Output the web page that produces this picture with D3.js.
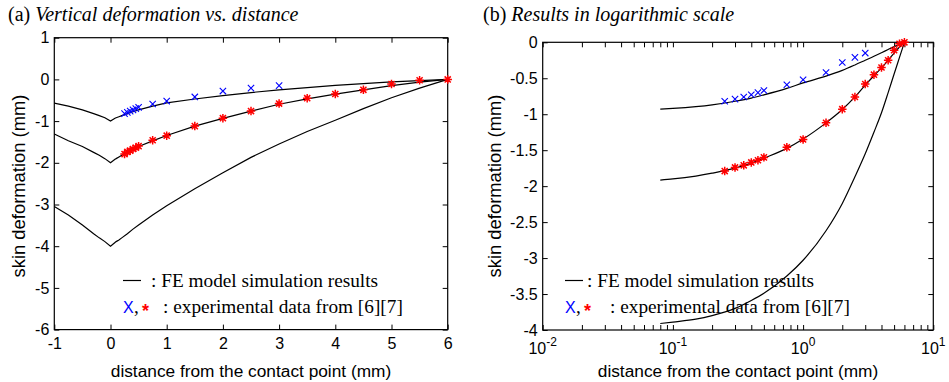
<!DOCTYPE html>
<html>
<head>
<meta charset="utf-8">
<script src="https://cdn.jsdelivr.net/npm/d3@7"></script>
<style>
  body { margin: 0; background: #fff; }
</style>
</head>
<body>
<div id="chart"></div>
<script>
// ---------- data ----------
// FE simulation, three loading levels (x = distance mm, y = deformation mm)
var feX    = [-1, -0.75, -0.5, -0.3, -0.2, -0.1, 0, 0.08, 0.1, 0.15, 0.2, 0.3, 0.4, 0.5, 0.75, 1, 1.5, 2, 2.5, 3, 3.5, 4, 4.5, 5, 5.5, 6];
var feLow  = [-0.57, -0.64, -0.73, -0.82, -0.87, -0.92, -1, -0.93, -0.92, -0.895, -0.87, -0.82, -0.775, -0.73, -0.64, -0.565, -0.47, -0.39, -0.315, -0.25, -0.195, -0.145, -0.1, -0.06, -0.03, 0];
var feMid  = [-1.31, -1.47, -1.61, -1.75, -1.82, -1.90, -2, -1.915, -1.90, -1.86, -1.82, -1.75, -1.68, -1.61, -1.475, -1.345, -1.12, -0.935, -0.76, -0.595, -0.465, -0.355, -0.25, -0.15, -0.065, 0];
var feHigh = [-3.05, -3.25, -3.49, -3.70, -3.80, -3.89, -4, -3.91, -3.89, -3.85, -3.80, -3.70, -3.59, -3.49, -3.25, -3.03, -2.62, -2.24, -1.87, -1.55, -1.25, -0.98, -0.70, -0.44, -0.21, 0];

// experimental data [6][7]
var blueX = [0.25, 0.3, 0.35, 0.4, 0.45, 0.5, 0.75, 1, 1.5, 2, 2.5, 3];
var blueY = [-0.82, -0.79, -0.76, -0.73, -0.70, -0.67, -0.59, -0.52, -0.42, -0.28, -0.21, -0.15];
var redX  = [0.25, 0.3, 0.35, 0.4, 0.45, 0.5, 0.75, 1, 1.5, 2, 2.5, 3, 3.5, 4, 4.5, 5, 5.5, 6];
var redY  = [-1.79, -1.74, -1.71, -1.67, -1.64, -1.60, -1.46, -1.35, -1.12, -0.93, -0.76, -0.58, -0.45, -0.35, -0.25, -0.11, -0.02, 0];

// ticks
var linTicksX = [-1, 0, 1, 2, 3, 4, 5, 6];
var linTicksY = [1, 0, -1, -2, -3, -4, -5, -6];
var logMajorX = [0.01, 0.1, 1, 10];
var logTicksY = [0, -0.5, -1, -1.5, -2, -2.5, -3, -3.5, -4];

var W = 949, H = 382;
var sans = "Arial, 'Liberation Sans', Helvetica, sans-serif";
var serif = "'Times New Roman', 'Liberation Serif', Times, serif";

var svg = d3.select("#chart").append("svg")
    .attr("width", W)
    .attr("height", H)
    .style("display", "block");
svg.append("rect").attr("width", W).attr("height", H).attr("fill", "#fff");

// 8 armed asterisk like matlab '*'
var asterisk = {
    draw: function(ctx, size) {
        var r = Math.sqrt(size) / 2, d = r * 0.72;
        ctx.moveTo(-r, 0); ctx.lineTo(r, 0);
        ctx.moveTo(0, -r); ctx.lineTo(0, r);
        ctx.moveTo(-d, -d); ctx.lineTo(d, d);
        ctx.moveTo(-d, d); ctx.lineTo(d, -d);
    }
};

function zip(xs, ys) {
    return xs.map(function(v, i) { return {x: v, y: ys[i]}; });
}

function drawPanel(p) {
    var g = svg.append("g");
    var x = p.x, y = p.y;
    var x0 = x.range()[0], x1 = x.range()[1];
    var y0 = y.range()[0], y1 = y.range()[1];

    // axes, ticks inward on all four sides
    var bottom = g.append("g").attr("transform", "translate(0," + y0 + ")")
        .call(d3.axisBottom(x).tickValues(p.xTicks).tickSize(-5).tickSizeOuter(0).tickPadding(8)
            .tickFormat(p.xFormat));
    var top = g.append("g").attr("transform", "translate(0," + y1 + ")")
        .call(d3.axisTop(x).tickValues(p.xTicks).tickSize(-5).tickSizeOuter(0).tickFormat(""));
    var left = g.append("g").attr("transform", "translate(" + x0 + ",0)")
        .call(d3.axisLeft(y).tickValues(p.yTicks).tickSize(-5).tickSizeOuter(0).tickPadding(5)
            .tickFormat(function(d) { return d; }));
    var right = g.append("g").attr("transform", "translate(" + x1 + ",0)")
        .call(d3.axisRight(y).tickValues(p.yTicks).tickSize(-5).tickSizeOuter(0).tickFormat(""));

    [bottom, top, left, right].forEach(function(a) {
        a.select(".domain").remove();
        a.selectAll("line").attr("stroke", "#000");
        a.selectAll("text").attr("fill", "#000").style("font-family", sans).style("font-size", "16px");
    });

    // frame
    g.append("rect")
        .attr("x", x0).attr("y", y1)
        .attr("width", x1 - x0).attr("height", y0 - y1)
        .attr("fill", "none").attr("stroke", "#000").attr("stroke-width", 1.2);

    // FE curves
    var line = d3.line()
        .x(function(d) { return x(d.x); })
        .y(function(d) { return y(d.y); })
        .curve(p.curve);
    [feLow, feMid, feHigh].forEach(function(ys) {
        var pts = zip(feX, ys).filter(function(d) { return d.x >= p.minX; });
        g.append("path")
            .datum(pts)
            .attr("d", line)
            .attr("fill", "none")
            .attr("stroke", "#000")
            .attr("stroke-width", 1.2);
    });

    // experimental markers
    g.selectAll(".bx")
        .data(zip(blueX, blueY))
        .enter().append("path")
        .attr("class", "bx")
        .attr("d", d3.symbol(d3.symbolTimes, 28))
        .attr("transform", function(d) { return "translate(" + x(d.x) + "," + y(d.y) + ")"; })
        .attr("fill", "none").attr("stroke", "#0000ff").attr("stroke-width", 1.1);

    g.selectAll(".rs")
        .data(zip(redX, redY))
        .enter().append("path")
        .attr("class", "rs")
        .attr("d", d3.symbol(asterisk, 72))
        .attr("transform", function(d) { return "translate(" + x(d.x) + "," + y(d.y) + ")"; })
        .attr("fill", "none").attr("stroke", "#ff0000").attr("stroke-width", 1.5);

    // title
    var t = g.append("text")
        .attr("x", p.titleX).attr("y", 21)
        .style("font-family", serif).style("font-size", "20px").attr("fill", "#000");
    t.append("tspan").text(p.tag + " ");
    t.append("tspan").style("font-style", "italic").text(p.title);

    // axis labels
    g.append("text")
        .attr("x", (x0 + x1) / 2).attr("y", 377)
        .attr("text-anchor", "middle")
        .style("font-family", sans).style("font-size", "17.3px")
        .text("distance from the contact point (mm)");
    g.append("text")
        .attr("transform", "translate(" + p.yLabelX + ",186) rotate(-90)")
        .attr("text-anchor", "middle")
        .style("font-family", sans).style("font-size", "18.4px")
        .text("skin deformation (mm)");

    // legend
    var lg = g.append("g").attr("transform", "translate(" + p.legX + ",0)");
    lg.append("line")
        .attr("x1", 0).attr("x2", 18).attr("y1", 280.5).attr("y2", 280.5)
        .attr("stroke", "#000").attr("stroke-width", 1.2);
    lg.append("text")
        .attr("x", p.legText1).attr("y", 287)
        .style("font-family", serif).style("font-size", "19.3px")
        .text(": FE model simulation results");
    lg.append("text")
        .attr("x", 0).attr("y", 313)
        .style("font-family", sans).style("font-size", "16px")
        .attr("fill", "#0000ff")
        .text("X");
    lg.append("text")
        .attr("x", 11).attr("y", 313)
        .style("font-family", serif).style("font-size", "19.3px")
        .text(",");
    lg.append("text")
        .attr("x", p.starX).attr("y", 317)
        .style("font-family", sans).style("font-size", "18px").style("font-weight", "bold")
        .attr("fill", "#ff0000")
        .text("*");
    lg.append("text")
        .attr("x", p.legText2).attr("y", 313)
        .style("font-family", serif).style("font-size", "19.3px")
        .text(": experimental data from [6][7]");

    return g;
}

// ---------- (a) linear ----------
var xa = d3.scaleLinear().domain([-1, 6]).range([54.3, 447.7]);
var ya = d3.scaleLinear().domain([-6, 1]).range([329.6, 37.7]);
drawPanel({
    x: xa, y: ya,
    xTicks: linTicksX, yTicks: linTicksY,
    xFormat: function(d) { return d; },
    curve: d3.curveLinear, minX: -Infinity,
    tag: "(a)", title: "Vertical deformation vs. distance", titleX: 8,
    yLabelX: 25,
    legX: 123, legText1: 28, starX: 19, legText2: 40
});

// ---------- (b) log x ----------
var xb = d3.scaleLog().domain([0.01, 10]).range([542.7, 933.3]);
var yb = d3.scaleLinear().domain([-4, 0]).range([330, 42.3]);
var logAll = [];
logMajorX.forEach(function(m, i) {
    logAll.push(m);
    if (i < logMajorX.length - 1) {
        for (var k = 2; k <= 9; k++) logAll.push(m * k);
    }
});
var gb = drawPanel({
    x: xb, y: yb,
    xTicks: logAll, yTicks: logTicksY,
    xFormat: function() { return ""; },
    curve: d3.curveMonotoneX, minX: 0.05,
    tag: "(b)", title: "Results in logarithmic scale", titleX: 483,
    yLabelX: 501,
    legX: 565, legText1: 22, starX: 19, legText2: 45
});

// power-of-ten labels
gb.selectAll(".pow")
    .data(logMajorX)
    .enter().append("text")
    .attr("class", "pow")
    .attr("x", function(d) { return xb(d); })
    .attr("y", 354)
    .attr("text-anchor", "middle")
    .style("font-family", sans).style("font-size", "16px")
    .each(function(d) {
        var e = Math.round(Math.log10(d));
        var s = d3.select(this);
        s.append("tspan").text("10");
        s.append("tspan").attr("dy", -8).style("font-size", "12px").text(e);
    });
</script>
</body>
</html>
